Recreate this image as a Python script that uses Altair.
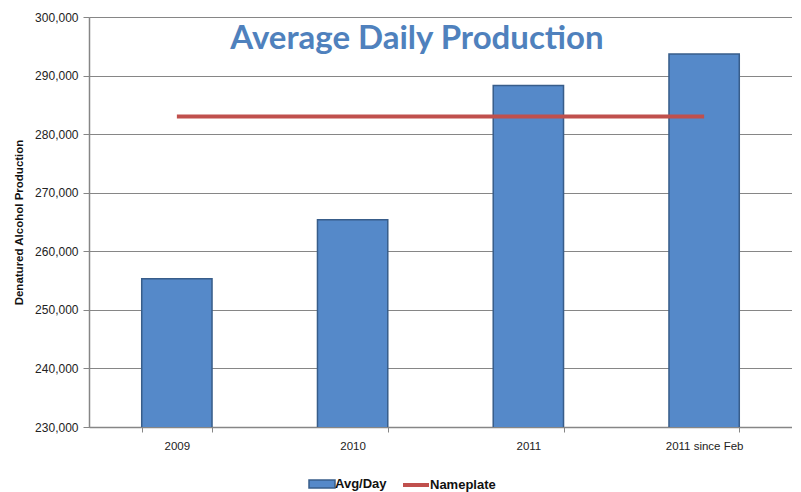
import altair as alt
import pandas as pd

categories = ["2009", "2010", "2011", "2011 since Feb"]
avg_day = [255300, 265400, 288300, 293700]
nameplate = [283000, 283000, 283000, 283000]
y_ticks = [230000, 240000, 250000, 260000, 270000, 280000, 290000, 300000]

df = pd.DataFrame({"cat": categories, "avg": avg_day, "np": nameplate,
                   "s1": ["Avg/Day"] * 4, "s2": ["Nameplate"] * 4})

W, H = 703, 410
FONT = "Liberation Sans"

x = alt.X("cat:N", sort=categories, title=None,
          scale=alt.Scale(paddingInner=0.6, paddingOuter=0.3),
          axis=alt.Axis(labelAngle=0, labelFontSize=11.5, labelFont=FONT, labelColor="#222",
                        labelPadding=8, tickBand="extent", tickSize=5, tickColor="#868686",
                        domainColor="#868686", domainWidth=1.5))

yscale = alt.Scale(domain=[230000, 300000], nice=False, zero=False)
yaxis = alt.Axis(values=y_ticks, format=",d", labelFontSize=12, labelFont=FONT, labelColor="#222",
                 title="Denatured Alcohol Production", titleFontSize=11.5, titleFont=FONT,
                 titleFontWeight="bold", titleColor="#111", titlePadding=10,
                 grid=True, gridColor="#868686", gridWidth=1.2, tickColor="#868686", tickSize=6,
                 domainColor="#868686", domainWidth=1.5, labelPadding=5)

bar_path = "M-1.3,-0.4H1.3V0.4H-1.3Z"
line_path = "M-1.3,0H1.3"

bars = alt.Chart(df).mark_bar(stroke="#385D8A", strokeWidth=1.5, clip=True).encode(
    x=x,
    y=alt.Y("avg:Q", scale=yscale, axis=yaxis),
    fill=alt.Fill("s1:N", scale=alt.Scale(domain=["Avg/Day"], range=["#5589C9"]),
                  legend=alt.Legend(title=None, orient="none", legendX=222, legendY=456,
                                    symbolType=bar_path,
                                    symbolSize=400, symbolStrokeColor="#385D8A", symbolStrokeWidth=1.5,
                                    labelFontSize=13, labelFont=FONT, labelFontWeight="bold",
                                    labelColor="#111", labelOffset=2)),
)

line = alt.Chart(df).mark_line(strokeWidth=4).encode(
    x=x,
    y=alt.Y("np:Q", scale=yscale, axis=yaxis),
    stroke=alt.Stroke("s2:N", scale=alt.Scale(domain=["Nameplate"], range=["#C0504D"]),
                      legend=alt.Legend(title=None, orient="none", legendX=315, legendY=456,
                                        symbolType=line_path,
                                        symbolStrokeWidth=4, symbolSize=400,
                                        labelFontSize=13, labelFont=FONT, labelFontWeight="bold",
                                        labelColor="#111", labelOffset=2)),
)

title = alt.Chart(pd.DataFrame({"t": ["Average Daily Production"]})).mark_text(
    font="Lato", fontSize=33, fontWeight="bold", color="#4F81BD", align="center", baseline="middle"
).encode(text="t:N", x=alt.value(328), y=alt.value(22))

chart = alt.layer(bars, line, title).resolve_scale(fill="independent", stroke="independent").properties(
    width=W, height=H
).configure_view(stroke=None).configure(
    background="white", padding={"left": 5, "top": 3, "right": 0, "bottom": 0}
)

chart.save("out.html", embed_options={"renderer": "svg", "actions": False})
